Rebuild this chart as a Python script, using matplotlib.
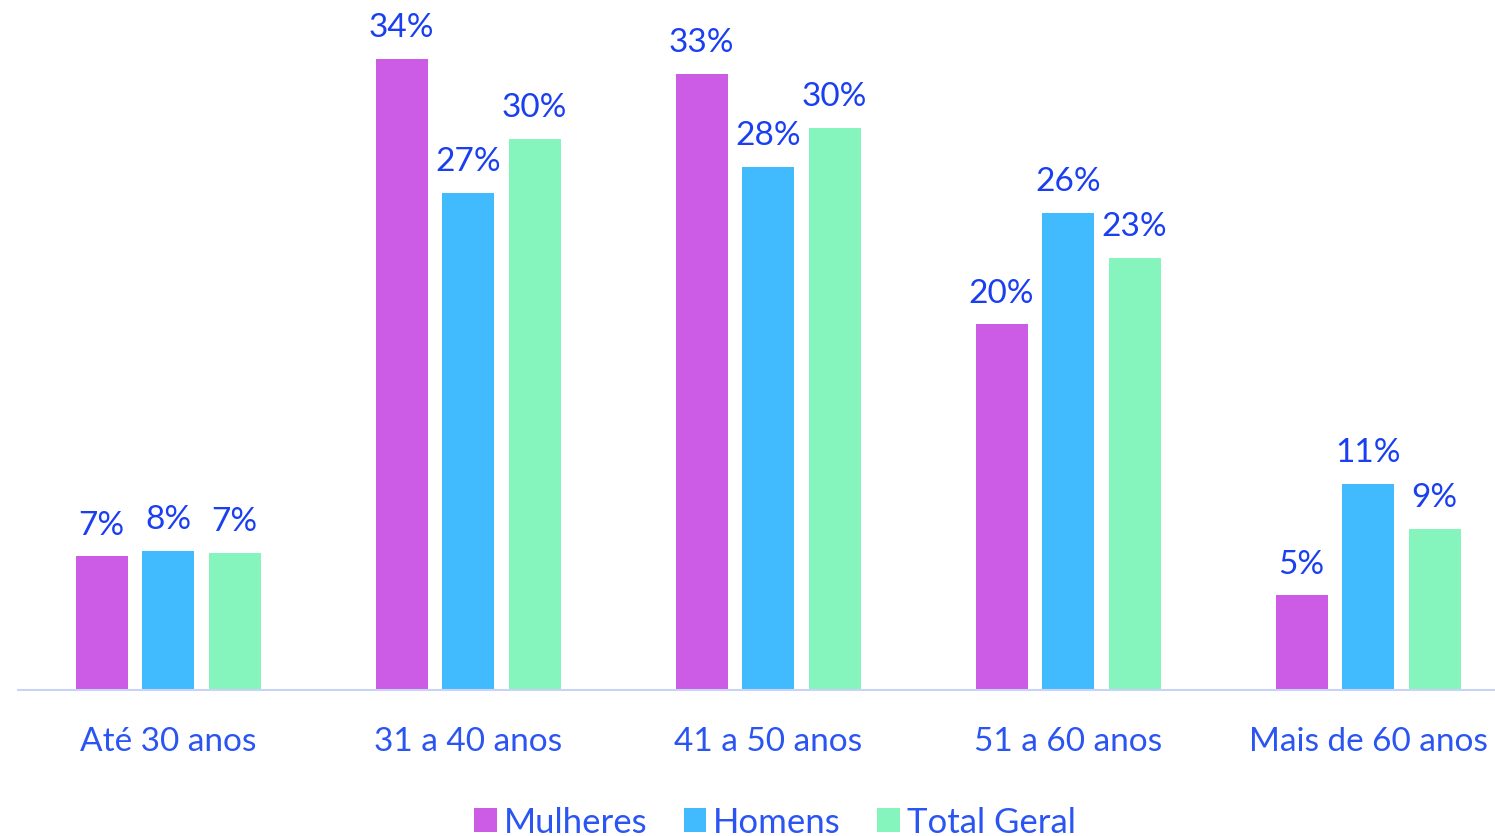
import matplotlib
matplotlib.use("Agg")
import matplotlib.pyplot as plt
import numpy as np

categories = ["Até 30 anos", "31 a 40 anos", "41 a 50 anos", "51 a 60 anos", "Mais de 60 anos"]
series_names = ["Mulheres", "Homens", "Total Geral"]
mulheres = [7.2, 34.0, 33.2, 19.7, 5.1]
homens = [7.5, 26.8, 28.2, 25.7, 11.1]
total = [7.4, 29.7, 30.3, 23.3, 8.7]
labels_m = ["7%", "34%", "33%", "20%", "5%"]
labels_h = ["8%", "27%", "28%", "26%", "11%"]
labels_t = ["7%", "30%", "30%", "23%", "9%"]

colors = ["#cc5ce6", "#42bafe", "#86f5bd"]
label_color = "#1a3ff0"
tick_color = "#2b55f2"

plt.rcParams['font.family'] = ['Lato', 'DejaVu Sans']

W, H = 1495, 837
fig = plt.figure(figsize=(W / 100, H / 100), dpi=100)
base_y = 691
ax = fig.add_axes([18 / W, 1 - base_y / H, 1 - 18 / W, base_y / H])

x = np.arange(len(categories))
bw = 52 / 300
off = 66.5 / 300
data = [mulheres, homens, total]
labs = [labels_m, labels_h, labels_t]
for i, (vals, lab) in enumerate(zip(data, labs)):
    pos = x + (i - 1) * off
    bars = ax.bar(pos, vals, width=bw, color=colors[i], label=series_names[i], zorder=2)
    for b, t in zip(bars, lab):
        ax.annotate(t, (b.get_x() + b.get_width() / 2, b.get_height()),
                    xytext=(0, 12), textcoords="offset points",
                    ha="center", va="bottom", fontsize=24, color=label_color)

ax.set_xlim(-0.5, (W - 168) / 300)
ax.set_ylim(0, base_y / 18.56)
for s in ["top", "right", "left"]:
    ax.spines[s].set_visible(False)
ax.spines["bottom"].set_color("#c9d3f5")
ax.spines["bottom"].set_linewidth(1.5)
ax.set_yticks([])
ax.set_xticks(x)
ax.set_xticklabels(categories, fontsize=24, color=tick_color)
ax.tick_params(axis="x", length=0, pad=26)

leg = fig.legend(loc="lower center", bbox_to_anchor=(775 / W, -0.04), ncol=3, frameon=False,
                 fontsize=25, handlelength=0.65, handleheight=0.65, handletextpad=0.2,
                 columnspacing=1.05)
for t in leg.get_texts():
    t.set_color(tick_color)

fig.savefig("out.png", dpi=100)
